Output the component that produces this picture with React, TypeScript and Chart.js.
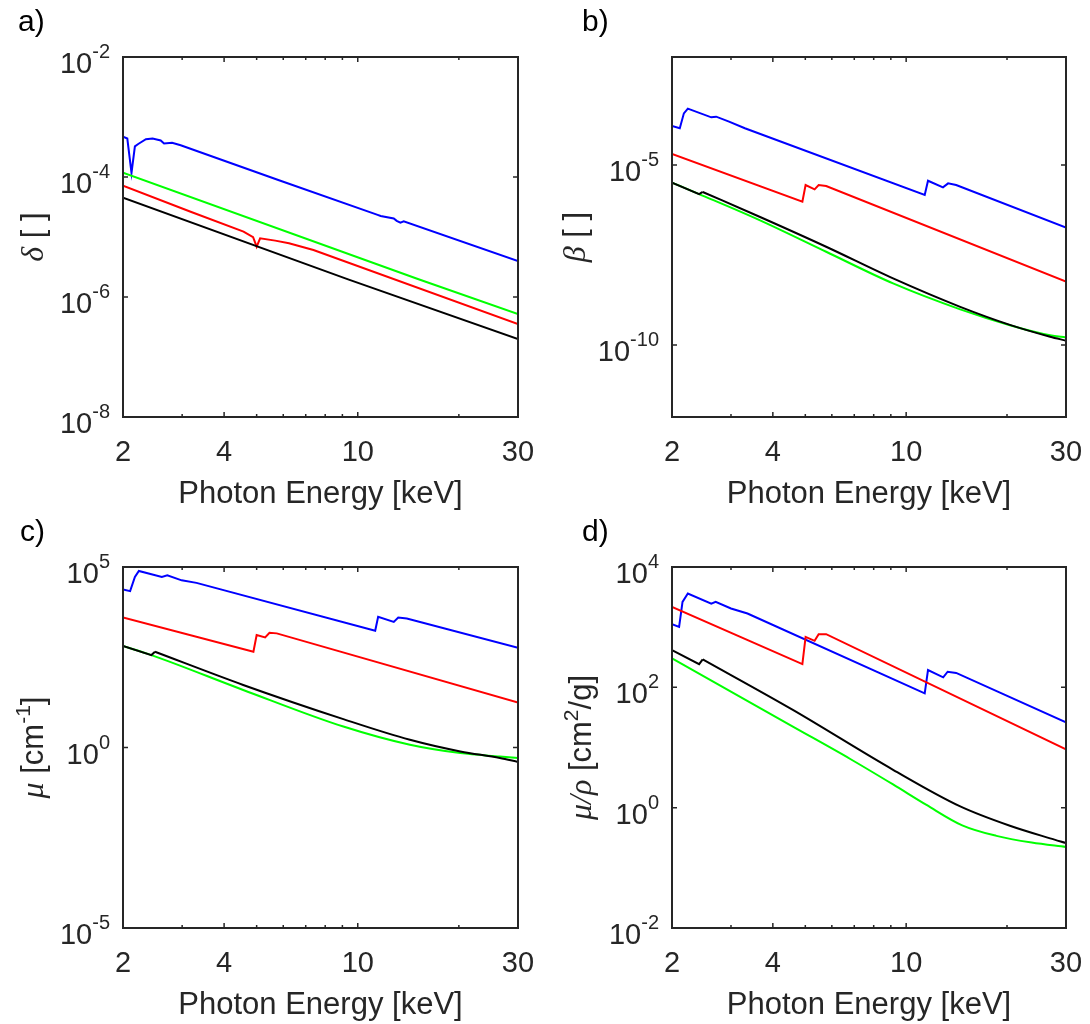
import React, { useEffect, useRef } from "react";
import { Chart, registerables } from "chart.js";

Chart.register(...registerables);

// ---------- axis ticks ----------
const xMajorTicks = [2, 4, 10, 30];
const xMinorTicks = [3, 5, 6, 7, 8, 9, 20];

// ---------- panel a) delta ----------
const aBlueE = [2.0, 2.06, 2.12, 2.17, 2.22, 2.34, 2.45, 2.59, 2.65, 2.8, 2.97, 5.8, 11.46, 11.7, 12.8, 13.06, 13.4, 13.7, 30];
const aBlueV = [4.68e-4, 4.37e-4, 1.17e-4, 3.24e-4, 3.55e-4, 4.27e-4, 4.37e-4, 4.07e-4, 3.63e-4, 3.72e-4, 3.39e-4, 8.9e-5, 2.34e-5, 2.24e-5, 2.04e-5, 1.86e-5, 1.74e-5, 1.82e-5, 3.98e-6];
const aRedE = [2.0, 3.18, 4.57, 4.88, 5.0, 5.12, 5.68, 6.24, 7.38, 30];
const aRedV = [7.16e-5, 2.64e-5, 1.23e-5, 9.9e-6, 6.9e-6, 9.5e-6, 8.7e-6, 7.85e-6, 6.07e-6, 3.55e-7];
const aGreenE = [2.0, 15.1, 30];
const aGreenV = [1.18e-4, 2.0e-6, 5.21e-7];
const aBlackE = [2.0, 9.36, 30];
const aBlackV = [4.52e-5, 1.97e-6, 2.0e-7];

// ---------- panel b) beta ----------
const bBlueE = [2.0, 2.11, 2.17, 2.23, 2.62, 2.71, 2.96, 3.3, 11.36, 11.62, 12.88, 13.34, 14.1, 30];
const bBlueV = [1.21e-4, 1.05e-4, 2.72e-4, 3.67e-4, 2.11e-4, 2.2e-4, 1.6e-4, 1.05e-4, 1.47e-6, 3.66e-6, 2.4e-6, 3.09e-6, 2.78e-6, 1.82e-7];
const bRedE = [2.0, 4.9, 5.01, 5.33, 5.48, 5.77, 30];
const bRedV = [2.04e-5, 9.55e-7, 2.78e-6, 2.11e-6, 2.78e-6, 2.61e-6, 5.75e-9];
const bBlackE = [2.0, 2.41, 2.47, 3.65, 5.77, 9.14, 14.5, 20.4, 26.9, 30];
const bBlackV = [3.24e-6, 1.56e-6, 1.78e-6, 3.66e-7, 5.37e-8, 7.08e-9, 1.15e-9, 3.63e-10, 1.7e-10, 1.32e-10];
const bGreenE = [2.0, 2.41, 3.65, 5.77, 9.14, 14.5, 20.4, 26.9, 30];
const bGreenV = [3.24e-6, 1.56e-6, 2.95e-7, 3.89e-8, 5.13e-9, 9.77e-10, 3.55e-10, 1.86e-10, 1.62e-10];

// ---------- panel c) mu ----------
const cBlueE = [2.0, 2.1, 2.17, 2.23, 2.61, 2.71, 2.99, 3.31, 11.27, 11.5, 12.8, 13.2, 14.0, 30];
const cBlueV = [2.38e4, 2.14e4, 5.3e4, 7.76e4, 5.3e4, 5.89e4, 4.27e4, 3.63e4, 1.71e3, 4.16e3, 3.02e3, 3.98e3, 3.76e3, 575];
const cRedE = [2.0, 4.89, 5.0, 5.3, 5.46, 5.74, 30];
const cRedV = [3.98e3, 449, 1.3e3, 1.12e3, 1.5e3, 1.45e3, 17.5];
const cBlackE = [2.0, 2.43, 2.49, 4.56, 9.06, 14.3, 20.2, 26.5, 30];
const cBlackV = [646, 363, 449, 54.0, 6.1, 1.63, 0.776, 0.513, 0.398];
const cGreenE = [2.0, 2.43, 4.56, 9.06, 14.3, 20.2, 26.5, 30];
const cGreenV = [646, 363, 39.3, 3.8, 1.19, 0.7, 0.562, 0.513];

// ---------- panel d) mu/rho ----------
const dBlueE = [2.0, 2.1, 2.15, 2.23, 2.62, 2.7, 3.0, 3.36, 11.36, 11.62, 12.9, 13.3, 14.1, 30];
const dBlueV = [1122, 1012, 2630, 3622, 2455, 2630, 2042, 1687, 79.4, 193.6, 146.6, 181.6, 173.8, 26.3];
const dRedE = [2.0, 4.9, 5.01, 5.33, 5.48, 5.77, 30];
const dRedV = [2173, 243, 690, 593, 766, 766, 9.33];
const dBlackE = [2.0, 2.41, 2.47, 4.59, 9.14, 14.5, 20.4, 26.9, 30];
const dBlackV = [417, 243, 291, 42.1, 4.26, 1.05, 0.5, 0.309, 0.259];
const dGreenE = [2.0, 4.59, 6.83, 9.14, 11.5, 14.7, 18.6, 23.7, 30];
const dGreenV = [302, 22.2, 6.38, 2.43, 1.11, 0.509, 0.34, 0.263, 0.222];

// ---------- y ticks ----------
const aYTicks = [1e-8, 1e-6, 1e-4, 1e-2];
const aYExps = ["-8", "-6", "-4", "-2"];
const bYTicks = [1e-10, 1e-5];
const bYExps = ["-10", "-5"];
const cYTicks = [1e-5, 1, 1e5];
const cYExps = ["-5", "0", "5"];
const dYTicks = [1e-2, 1, 1e2, 1e4];
const dYExps = ["-2", "0", "2", "4"];

const xTitle = "Photon Energy [keV]";

const SANS = '"Liberation Sans", Arial, Helvetica, sans-serif';
const SERIF = '"Liberation Serif", "Times New Roman", serif';
const AXIS = "#262626";
const BLUE = "#0000ff";
const RED = "#ff0000";
const GREEN = "#00ff00";
const BLACK = "#000000";

type Seg = { t: string; sup?: boolean; italic?: boolean };
// edge: index where an absorption edge ends; points before it are joined straight,
// points from it on are drawn as a smooth curve (when smooth is true)
type Ser = { e: number[]; v: number[]; color: string; smooth: boolean; edge?: number };
type PanelDef = {
  letter: string;
  left: number;
  top: number;
  pad: { left: number; right: number; top: number; bottom: number };
  yMin: number;
  yMax: number;
  yTicks: number[];
  yExps: string[];
  yTitle: Seg[];
  titleX: number;
  letterX: number;
  letterY: number;
  series: Ser[];
};

const PANELS: PanelDef[] = [
  {
    letter: "a", left: 0, top: 0,
    pad: { left: 123, right: 27, top: 57, bottom: 95 },
    yMin: 1e-8, yMax: 1e-2, yTicks: aYTicks, yExps: aYExps,
    yTitle: [{ t: "\u03b4", italic: true }, { t: " [ ]" }],
    titleX: 43, letterX: 18, letterY: 31,
    series: [
      { e: aBlackE, v: aBlackV, color: BLACK, smooth: false },
      { e: aGreenE, v: aGreenV, color: GREEN, smooth: false },
      { e: aRedE, v: aRedV, color: RED, smooth: false },
      { e: aBlueE, v: aBlueV, color: BLUE, smooth: false },
    ],
  },
  {
    letter: "b", left: 545, top: 0,
    pad: { left: 127, right: 24, top: 57, bottom: 95 },
    yMin: 1e-12, yMax: 1e-2, yTicks: bYTicks, yExps: bYExps,
    yTitle: [{ t: "\u03b2", italic: true }, { t: " [ ]" }],
    titleX: 40, letterX: 37, letterY: 31,
    series: [
      { e: bBlackE, v: bBlackV, color: BLACK, smooth: true, edge: 2 },
      { e: bGreenE, v: bGreenV, color: GREEN, smooth: true },
      { e: bRedE, v: bRedV, color: RED, smooth: false },
      { e: bBlueE, v: bBlueV, color: BLUE, smooth: false },
    ],
  },
  {
    letter: "c", left: 0, top: 512,
    pad: { left: 123, right: 27, top: 55, bottom: 96 },
    yMin: 1e-5, yMax: 1e5, yTicks: cYTicks, yExps: cYExps,
    yTitle: [{ t: "\u03bc", italic: true }, { t: " [cm" }, { t: "-1", sup: true }, { t: "]" }],
    titleX: 43, letterX: 20, letterY: 29,
    series: [
      { e: cBlackE, v: cBlackV, color: BLACK, smooth: true, edge: 2 },
      { e: cGreenE, v: cGreenV, color: GREEN, smooth: true },
      { e: cRedE, v: cRedV, color: RED, smooth: false },
      { e: cBlueE, v: cBlueV, color: BLUE, smooth: false },
    ],
  },
  {
    letter: "d", left: 545, top: 512,
    pad: { left: 127, right: 24, top: 55, bottom: 96 },
    yMin: 1e-2, yMax: 1e4, yTicks: dYTicks, yExps: dYExps,
    yTitle: [{ t: "\u03bc/\u03c1", italic: true }, { t: " [cm" }, { t: "2", sup: true }, { t: "/g]" }],
    titleX: 46, letterX: 37, letterY: 29,
    series: [
      { e: dBlackE, v: dBlackV, color: BLACK, smooth: true, edge: 2 },
      { e: dGreenE, v: dGreenV, color: GREEN, smooth: true },
      { e: dRedE, v: dRedV, color: RED, smooth: false },
      { e: dBlueE, v: dBlueV, color: BLUE, smooth: false },
    ],
  },
];

const TICK_FONT = `29px ${SANS}`;
const SUP_FONT = `20px ${SANS}`;
const LETTER_FONT = `30px ${SANS}`;
const TITLE_FONT = `31px ${SANS}`;
const TITLE_SUP_FONT = `21px ${SANS}`;
const TITLE_IT_FONT = `italic 32px ${SERIF}`;

function segFont(s: Seg) {
  if (s.sup) return TITLE_SUP_FONT;
  if (s.italic) return TITLE_IT_FONT;
  return TITLE_FONT;
}

function makeAxesPlugin(p: PanelDef) {
  return {
    id: "matlabAxes_" + p.letter,
    afterDatasetsDraw(chart: any) {
      const ctx: CanvasRenderingContext2D = chart.ctx;
      const { left, right, top, bottom } = chart.chartArea;
      const xs = chart.scales.x;
      const ys = chart.scales.y;
      ctx.save();
      ctx.strokeStyle = AXIS;
      ctx.fillStyle = AXIS;

      // ticks (inward, both sides)
      ctx.lineWidth = 1.5;
      ctx.beginPath();
      const xTick = (v: number, len: number) => {
        const px = xs.getPixelForValue(v);
        ctx.moveTo(px, bottom);
        ctx.lineTo(px, bottom - len);
        ctx.moveTo(px, top);
        ctx.lineTo(px, top + len);
      };
      xMajorTicks.forEach((v) => xTick(v, 5));
      xMinorTicks.forEach((v) => xTick(v, 3));
      p.yTicks.forEach((v) => {
        const py = ys.getPixelForValue(v);
        ctx.moveTo(left, py);
        ctx.lineTo(left + 5, py);
        ctx.moveTo(right, py);
        ctx.lineTo(right - 5, py);
      });
      ctx.stroke();

      // frame
      ctx.lineWidth = 2;
      ctx.strokeRect(left, top, right - left, bottom - top);

      // x tick labels
      ctx.font = TICK_FONT;
      ctx.textAlign = "center";
      ctx.textBaseline = "alphabetic";
      xMajorTicks.forEach((v) => {
        ctx.fillText(String(v), xs.getPixelForValue(v), bottom + 44);
      });

      // y tick labels 10^n
      ctx.textAlign = "left";
      p.yTicks.forEach((v, i) => {
        const py = ys.getPixelForValue(v);
        const exp = p.yExps[i];
        ctx.font = TICK_FONT;
        const w10 = ctx.measureText("10").width;
        ctx.font = SUP_FONT;
        const wSup = ctx.measureText(exp).width;
        const x0 = left - 13 - wSup - w10;
        ctx.font = TICK_FONT;
        ctx.fillText("10", x0, py + 16);
        ctx.font = SUP_FONT;
        ctx.fillText(exp, x0 + w10, py + 1);
      });

      // x title
      ctx.font = TITLE_FONT;
      ctx.textAlign = "center";
      ctx.fillText(xTitle, (left + right) / 2, bottom + 86);

      // y title (rotated, mixed fonts)
      let total = 0;
      p.yTitle.forEach((s) => {
        ctx.font = segFont(s);
        total += ctx.measureText(s.t).width;
      });
      ctx.save();
      ctx.translate(p.titleX, (top + bottom) / 2);
      ctx.rotate(-Math.PI / 2);
      ctx.textAlign = "left";
      let cx = -total / 2;
      p.yTitle.forEach((s) => {
        ctx.font = segFont(s);
        ctx.fillText(s.t, cx, s.sup ? -13 : 0);
        cx += ctx.measureText(s.t).width;
      });
      ctx.restore();

      // panel letter
      ctx.font = LETTER_FONT;
      ctx.textAlign = "left";
      ctx.fillStyle = "#000000";
      ctx.fillText(p.letter + ")", p.letterX, p.letterY);

      ctx.restore();
    },
  };
}

function buildDatasets(series: Ser[]) {
  const out: any[] = [];
  series.forEach((s, k) => {
    const pts = s.e.map((x, i) => ({ x, y: s.v[i] }));
    const base = {
      borderColor: s.color,
      backgroundColor: s.color,
      borderWidth: 2,
      pointRadius: 0,
      fill: false,
      tension: 0,
    };
    if (s.smooth && s.edge !== undefined) {
      out.push({ ...base, label: "s" + k + "a", data: pts.slice(0, s.edge + 1), cubicInterpolationMode: "default" });
      out.push({ ...base, label: "s" + k + "b", data: pts.slice(s.edge), cubicInterpolationMode: "monotone" });
    } else {
      out.push({ ...base, label: "s" + k, data: pts, cubicInterpolationMode: s.smooth ? "monotone" : "default" });
    }
  });
  return out;
}

function Panel({ p }: { p: PanelDef }) {
  const ref = useRef<HTMLCanvasElement | null>(null);
  useEffect(() => {
    if (!ref.current) return;
    const chart = new Chart(ref.current, {
      type: "line",
      data: { datasets: buildDatasets(p.series) },
      options: {
        animation: false,
        responsive: false,
        maintainAspectRatio: false,
        events: [],
        layout: { padding: p.pad },
        plugins: {
          legend: { display: false },
          tooltip: { enabled: false },
          title: { display: false },
        },
        scales: {
          x: { type: "logarithmic", min: 2, max: 30, display: false },
          y: { type: "logarithmic", min: p.yMin, max: p.yMax, display: false },
        },
      } as any,
      plugins: [makeAxesPlugin(p)],
    } as any);
    return () => chart.destroy();
  }, [p]);
  return (
    <canvas
      ref={ref}
      width={545}
      height={512}
      style={{ position: "absolute", left: p.left, top: p.top, width: 545, height: 512 }}
    />
  );
}

export default function App() {
  return (
    <div style={{ position: "absolute", left: 0, top: 0, width: 1090, height: 1024, background: "#ffffff" }}>
      {PANELS.map((p) => (
        <Panel key={p.letter} p={p} />
      ))}
    </div>
  );
}
